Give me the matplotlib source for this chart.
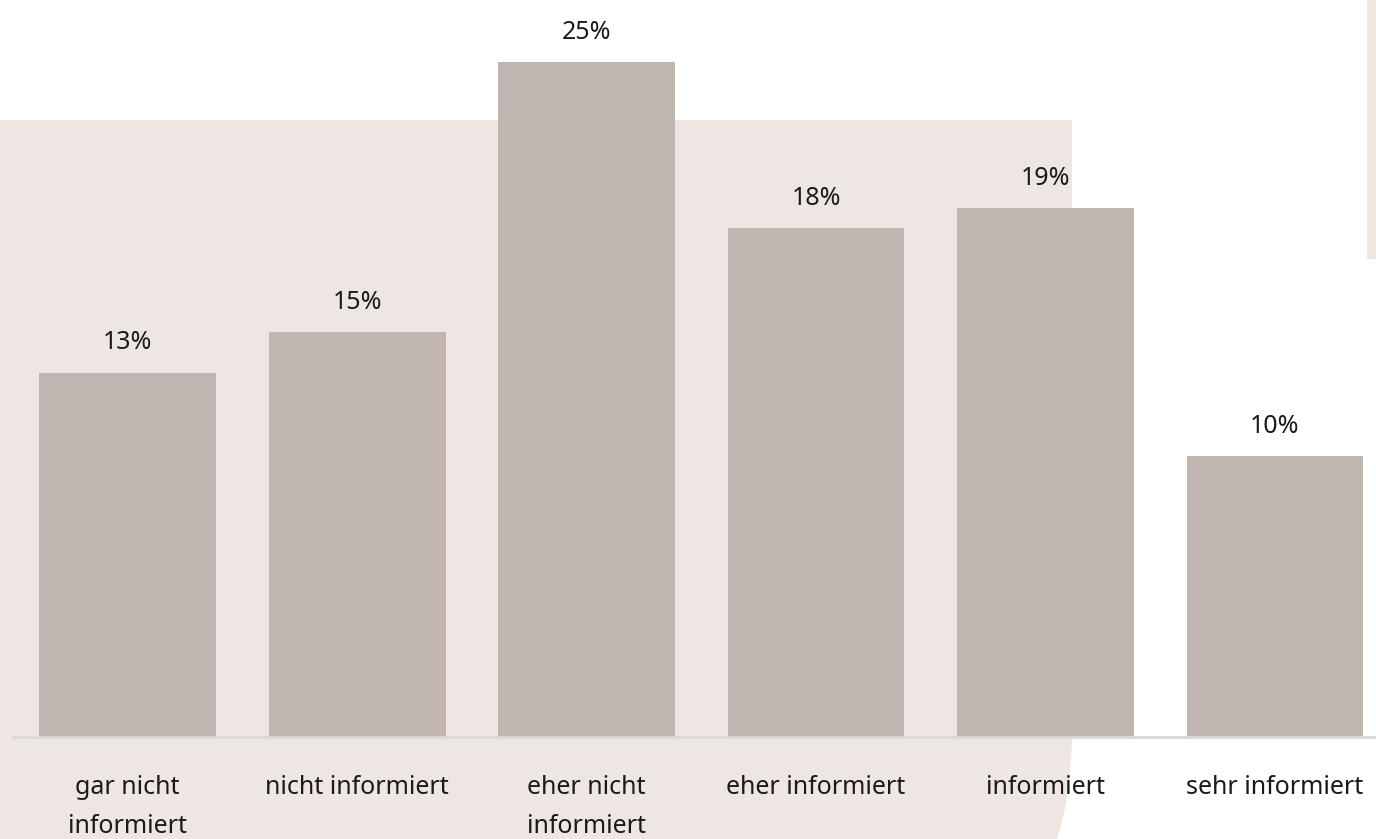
import matplotlib.pyplot as plt
from matplotlib.patches import PathPatch, Rectangle
from matplotlib.path import Path

# Data
categories = ['gar nicht\ninformiert', 'nicht informiert', 'eher nicht\ninformiert',
              'eher informiert', 'informiert', 'sehr informiert']
values = [13.5, 15.0, 25.0, 18.85, 19.6, 10.4]
value_labels = ['13%', '15%', '25%', '18%', '19%', '10%']

bar_color = '#c0b5b0'
bg_color = '#ede6e3'
text_color = '#1a1a1a'

W, H = 1376, 839
fig = plt.figure(figsize=(W / 100, H / 100), dpi=100)

# background axes in pixel coordinates (y down) for the decorative shapes
bg = fig.add_axes([0, 0, 1, 1], zorder=-1)
bg.set_xlim(0, W)
bg.set_ylim(H, 0)
bg.axis('off')

verts = [(0, 120), (1072, 120), (1072, 740), (1070, 800), (1057, 839), (0, 839), (0, 120)]
codes = [Path.MOVETO, Path.LINETO, Path.LINETO,
         Path.CURVE3, Path.CURVE3, Path.LINETO, Path.CLOSEPOLY]
bg.add_patch(PathPatch(Path(verts, codes), facecolor=bg_color, edgecolor='none'))
bg.add_patch(Rectangle((1367, 0), 9, 259, facecolor=bg_color, edgecolor='none'))

ax = fig.add_axes([13 / W, 1 - 737 / H, 1363 / W, 737 / H])
ax.set_facecolor('none')

x = range(len(categories))
ax.bar(x, values, width=0.77, color=bar_color, zorder=2)
for xi, v, lab in zip(x, values, value_labels):
    ax.text(xi, v + 1.1, lab, ha='center', va='center', fontsize=18,
            color=text_color, family='Noto Sans')

ax.set_xlim(-0.5, 5.44)
ax.set_ylim(0, 737 / 27)

for s in ['top', 'right', 'left']:
    ax.spines[s].set_visible(False)
ax.spines['bottom'].set_color('#d9d9d9')
ax.spines['bottom'].set_linewidth(2)
ax.set_yticks([])
ax.set_xticks(list(x))
ax.set_xticklabels(categories, fontsize=18, color=text_color, family='Noto Sans',
                   linespacing=1.75, va='top')
ax.tick_params(axis='x', length=0, pad=27)

fig.savefig('out.png', dpi=100)
